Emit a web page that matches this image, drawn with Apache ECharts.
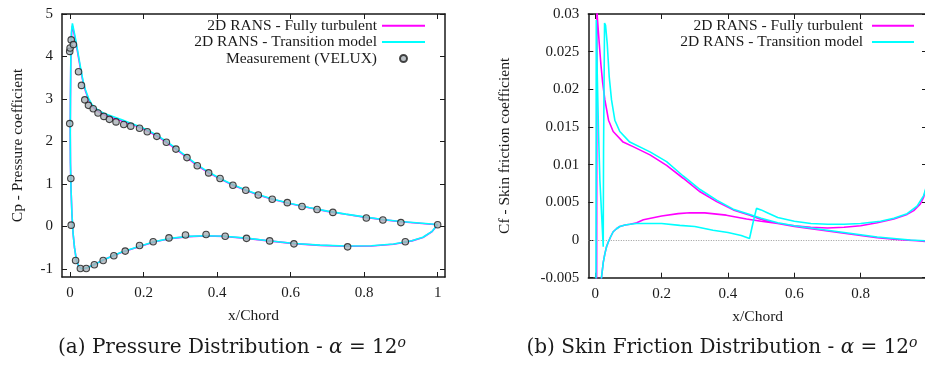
<!DOCTYPE html>
<html>
<head>
<meta charset="utf-8">
<script src="https://cdn.jsdelivr.net/npm/echarts@6/dist/echarts.min.js"></script>
<style>
html,body{margin:0;padding:0;background:#fff;}
#chart{width:925px;height:365px;}
</style>
</head>
<body>
<div id="chart"></div>
<script>
// ---------- Data ----------
const seriesNames = ['2D RANS - Fully turbulent', '2D RANS - Transition model', 'Measurement (VELUX)'];

const cpXTicks = [0, 0.2, 0.4, 0.6, 0.8, 1];
const cpXTickLabels = ['0', '0.2', '0.4', '0.6', '0.8', '1'];
const cpYTicks = [-1, 0, 1, 2, 3, 4, 5];
const cpYTickLabels = ['-1', '0', '1', '2', '3', '4', '5'];

const cfXTicks = [0, 0.2, 0.4, 0.6, 0.8];
const cfXTickLabels = ['0', '0.2', '0.4', '0.6', '0.8'];
const cfYTicks = [-0.005, 0, 0.005, 0.01, 0.015, 0.02, 0.025, 0.03];
const cfYTickLabels = ['-0.005', '0', '0.005', '0.01', '0.015', '0.02', '0.025', '0.03'];

// Cp (plotted as -Cp), path: upper TE -> LE -> lower TE
const cpTurbulent = [
  [1.0, 0.04], [0.95, 0.075], [0.9, 0.11], [0.85, 0.16], [0.8, 0.22], [0.75, 0.285], [0.7, 0.355],
  [0.65, 0.44], [0.6, 0.535], [0.55, 0.64], [0.512, 0.74], [0.478, 0.85], [0.443, 0.97], [0.408, 1.12],
  [0.377, 1.26], [0.346, 1.43], [0.318, 1.62], [0.288, 1.82], [0.262, 1.98], [0.236, 2.13], [0.21, 2.25],
  [0.187, 2.34], [0.165, 2.41], [0.141, 2.48], [0.118, 2.55], [0.095, 2.62], [0.08, 2.69], [0.068, 2.76],
  [0.058, 2.86], [0.05, 2.99], [0.042, 3.18], [0.036, 3.36], [0.028, 3.72], [0.02, 4.12], [0.0136, 4.42],
  [0.0063, 4.72], [0.004, 4.55], [0.002, 3.9], [0.001, 3.0], [0.0005, 2.2], [0.001, 1.5], [0.0025, 0.9],
  [0.005, 0.3], [0.008, -0.15], [0.012, -0.5], [0.017, -0.78], [0.023, -0.93], [0.03, -0.99], [0.04, -0.99],
  [0.05, -0.96], [0.07, -0.88], [0.095, -0.77], [0.12, -0.68], [0.141, -0.61], [0.187, -0.48], [0.231, -0.36],
  [0.277, -0.28], [0.322, -0.24], [0.367, -0.225], [0.42, -0.235], [0.48, -0.28], [0.54, -0.34], [0.61, -0.405],
  [0.68, -0.445], [0.75, -0.465], [0.82, -0.46], [0.88, -0.42], [0.93, -0.34], [0.96, -0.26], [0.985, -0.12],
  [1.0, 0.04]
];
const cpTransition = [
  [1.0, 0.045], [0.95, 0.08], [0.9, 0.115], [0.85, 0.165], [0.8, 0.225], [0.75, 0.29], [0.7, 0.36],
  [0.65, 0.445], [0.6, 0.54], [0.55, 0.645], [0.512, 0.75], [0.478, 0.86], [0.443, 0.98], [0.408, 1.13],
  [0.377, 1.28], [0.346, 1.45], [0.318, 1.64], [0.288, 1.84], [0.262, 2.0], [0.236, 2.15], [0.21, 2.27],
  [0.187, 2.36], [0.165, 2.43], [0.141, 2.51], [0.118, 2.58], [0.095, 2.65], [0.08, 2.72], [0.068, 2.79],
  [0.058, 2.89], [0.05, 3.02], [0.042, 3.21], [0.036, 3.39], [0.028, 3.76], [0.02, 4.16], [0.0136, 4.47],
  [0.0063, 4.78], [0.004, 4.6], [0.002, 3.95], [0.001, 3.0], [0.0005, 2.2], [0.001, 1.5], [0.0025, 0.9],
  [0.005, 0.3], [0.008, -0.15], [0.012, -0.5], [0.017, -0.78], [0.023, -0.93], [0.03, -0.99], [0.04, -0.99],
  [0.05, -0.96], [0.07, -0.88], [0.095, -0.77], [0.12, -0.68], [0.141, -0.6], [0.187, -0.47], [0.231, -0.355],
  [0.277, -0.275], [0.322, -0.235], [0.367, -0.22], [0.42, -0.23], [0.48, -0.275], [0.54, -0.335], [0.61, -0.4],
  [0.68, -0.44], [0.75, -0.46], [0.82, -0.455], [0.88, -0.415], [0.93, -0.335], [0.96, -0.255], [0.985, -0.115],
  [1.0, 0.045]
];
const cpMeasured = [
  [-0.001, 4.12], [0.0, 4.2], [0.003, 4.39], [0.009, 4.28], [-0.001, 2.42], [0.002, 1.13],
  [0.023, 3.64], [0.031, 3.32], [0.040, 2.98], [0.050, 2.85], [0.063, 2.77], [0.076, 2.67], [0.092, 2.59],
  [0.107, 2.52], [0.125, 2.46], [0.146, 2.40], [0.165, 2.36], [0.189, 2.31], [0.210, 2.23], [0.236, 2.12],
  [0.262, 1.98], [0.288, 1.82], [0.318, 1.62], [0.346, 1.43], [0.377, 1.26], [0.408, 1.13], [0.443, 0.97],
  [0.478, 0.85], [0.512, 0.74], [0.550, 0.64], [0.591, 0.56], [0.631, 0.47], [0.672, 0.40], [0.715, 0.33],
  [0.806, 0.20], [0.851, 0.15], [0.900, 0.09], [1.0, 0.04],
  [0.003, 0.03], [0.015, -0.80], [0.028, -0.99], [0.044, -0.99], [0.066, -0.90], [0.090, -0.80],
  [0.119, -0.69], [0.150, -0.58], [0.189, -0.45], [0.226, -0.36], [0.269, -0.27], [0.314, -0.20],
  [0.370, -0.19], [0.422, -0.23], [0.480, -0.28], [0.543, -0.34], [0.609, -0.41], [0.755, -0.48], [0.912, -0.36]
];

// Cf, path: upper TE -> LE -> lower TE
const cfTurbulent = [
  [1.0, -0.0002], [0.97, -0.0001], [0.93, 0.0], [0.9, 0.0001], [0.85, 0.0003], [0.8, 0.0006], [0.75, 0.0009],
  [0.7, 0.0012], [0.65, 0.0015], [0.6, 0.0018], [0.55, 0.0022], [0.496, 0.0028], [0.466, 0.0033], [0.416, 0.0040],
  [0.366, 0.0051], [0.316, 0.0064], [0.265, 0.0082], [0.215, 0.0099], [0.165, 0.0113], [0.114, 0.0124],
  [0.084, 0.0130], [0.054, 0.0144], [0.04, 0.0159], [0.029, 0.0186], [0.022, 0.0210], [0.017, 0.0233],
  [0.012, 0.0261], [0.006, 0.0297], [0.005, 0.034], [0.004, -0.012], [0.012, -0.009], [0.016, -0.0062],
  [0.019, -0.0049], [0.024, -0.003], [0.029, -0.0018], [0.034, -0.0009], [0.039, -0.0003], [0.046, 0.0004],
  [0.054, 0.0011], [0.064, 0.0015], [0.074, 0.0018], [0.09, 0.0020], [0.105, 0.0021], [0.125, 0.0023],
  [0.145, 0.0027], [0.2, 0.0032], [0.25, 0.0035], [0.285, 0.00362], [0.33, 0.0036], [0.395, 0.0033],
  [0.456, 0.0028], [0.5, 0.0025], [0.55, 0.0022], [0.6, 0.0019], [0.65, 0.0017], [0.7, 0.0016], [0.75, 0.0017],
  [0.8, 0.0019], [0.85, 0.0023], [0.9, 0.0028], [0.94, 0.0034], [0.96, 0.0039], [0.98, 0.0048], [0.99, 0.0057],
  [1.0, 0.0072]
];
const cfTransition = [
  [1.0, -0.0001], [0.95, 0.0], [0.9, 0.0002], [0.85, 0.0004], [0.8, 0.0007], [0.75, 0.001], [0.7, 0.0013],
  [0.65, 0.0016], [0.6, 0.0019], [0.55, 0.0023], [0.5, 0.0029], [0.466, 0.0034], [0.416, 0.0041],
  [0.366, 0.0053], [0.316, 0.0067], [0.265, 0.0085], [0.215, 0.0104], [0.165, 0.0117], [0.104, 0.0130],
  [0.074, 0.0144], [0.059, 0.0159], [0.049, 0.0186], [0.042, 0.0217], [0.036, 0.0261], [0.031, 0.0285],
  [0.028, 0.0288], [0.026, 0.0286], [0.025, 0.012], [0.024, -0.0009], [0.019, 0.0035], [0.014, 0.0079],
  [0.01, 0.014], [0.006, 0.022], [0.003, 0.0292], [0.002, 0.0292], [0.002, -0.012], [0.012, -0.009],
  [0.016, -0.0062], [0.019, -0.0049], [0.024, -0.003], [0.029, -0.0018], [0.034, -0.0009], [0.039, -0.0003],
  [0.046, 0.0004], [0.054, 0.0011], [0.064, 0.0015], [0.074, 0.0018], [0.09, 0.0020], [0.105, 0.0021],
  [0.125, 0.0022], [0.155, 0.0022], [0.2, 0.0022], [0.255, 0.00195], [0.3, 0.0018], [0.355, 0.0013],
  [0.4, 0.0010], [0.44, 0.0006], [0.465, 0.0002], [0.475, 0.0022], [0.486, 0.0042], [0.5, 0.0040],
  [0.52, 0.0036], [0.55, 0.0030], [0.6, 0.0025], [0.65, 0.0022], [0.7, 0.0021], [0.75, 0.0021], [0.8, 0.0022],
  [0.86, 0.0025], [0.9, 0.0029], [0.94, 0.0035], [0.97, 0.0045], [0.99, 0.0059], [1.0, 0.0074]
];

// ---------- Styles ----------
const FONT = '"Liberation Serif", "Times New Roman", serif';
const CAPFONT = '"DejaVu Serif", "Liberation Serif", serif';
const INK = '#1a1a1a';
const MAGENTA = '#ff00ff';
const CYAN = '#00ffff';

function labelFrom(ticks, labels) {
  return function (v) {
    let best = 0, d = Infinity;
    ticks.forEach((t, i) => { const dd = Math.abs(t - v); if (dd < d) { d = dd; best = i; } });
    return labels[best];
  };
}

function mkAxis(grid, pos, min, max, ticks, labels, showLabel, name, nameGap) {
  const a = {
    type: 'value', gridIndex: grid, position: pos, min: min, max: max,
    splitLine: { show: false },
    axisLine: { show: true, onZero: false, lineStyle: { color: INK, width: 1.5 } },
    axisTick: { show: true, inside: true, length: 5, customValues: ticks, lineStyle: { color: INK, width: 1 } },
    axisLabel: {
      show: showLabel, customValues: ticks, formatter: labelFrom(ticks, labels),
      fontFamily: FONT, fontSize: 15, color: INK, margin: 9
    }
  };
  if (name) {
    a.name = name; a.nameLocation = 'middle'; a.nameGap = nameGap;
    a.nameTextStyle = { fontFamily: FONT, fontSize: 15.5, color: INK };
    a.nameMoveOverlap = false;
  }
  return a;
}

const hideSym = { opacity: 0 };
const legendText = { fontFamily: FONT, fontSize: 15.5, color: INK, lineHeight: 16 };

const chart = echarts.init(document.getElementById('chart'), null, { renderer: 'canvas' });

const option = {
  animation: false,
  backgroundColor: '#fff',
  grid: [
    { left: 62, top: 14, right: 480, bottom: 88, containLabel: false, outerBoundsMode: 'none' },
    { left: 588.3, top: 14, right: -2, bottom: 87.3, containLabel: false, outerBoundsMode: 'none' }
  ],
  xAxis: [
    mkAxis(0, 'bottom', -0.022, 1.02, cpXTicks, cpXTickLabels, true, 'x/Chord', 31),
    mkAxis(0, 'top', -0.022, 1.02, cpXTicks, cpXTickLabels, false),
    mkAxis(1, 'bottom', -0.021, 1.0, cfXTicks, cfXTickLabels, true, 'x/Chord', 31),
    mkAxis(1, 'top', -0.021, 1.0, cfXTicks, cfXTickLabels, false)
  ],
  yAxis: [
    mkAxis(0, 'left', -1.19, 5, cpYTicks, cpYTickLabels, true, 'Cp - Pressure coefficient', 36),
    mkAxis(0, 'right', -1.19, 5, cpYTicks, cpYTickLabels, false),
    mkAxis(1, 'left', -0.005, 0.03, cfYTicks, cfYTickLabels, true, 'Cf - Skin friction coefficient', 75),
    mkAxis(1, 'right', -0.005, 0.03, cfYTicks, cfYTickLabels, false)
  ],
  legend: [
    {
      orient: 'vertical', align: 'right', right: 499, top: 17.7, padding: 0, itemGap: 0.4,
      itemWidth: 43, itemHeight: 7, selectedMode: false, textStyle: legendText,
      data: [
        { name: seriesNames[0], itemStyle: hideSym },
        { name: seriesNames[1], itemStyle: hideSym },
        { name: seriesNames[2] }
      ]
    },
    {
      orient: 'vertical', align: 'right', right: 10, top: 17.7, padding: 0, itemGap: 0.4,
      itemWidth: 42, itemHeight: 7, selectedMode: false, textStyle: legendText,
      data: [
        { name: seriesNames[0] + ' ', itemStyle: hideSym },
        { name: seriesNames[1] + ' ', itemStyle: hideSym }
      ]
    }
  ],
  series: [
    {
      name: seriesNames[0], type: 'line', xAxisIndex: 0, yAxisIndex: 0, data: cpTurbulent,
      symbol: 'none', smooth: false, lineStyle: { color: MAGENTA, width: 1.6 }, itemStyle: { color: MAGENTA }, z: 2
    },
    {
      name: seriesNames[1], type: 'line', xAxisIndex: 0, yAxisIndex: 0, data: cpTransition,
      symbol: 'none', smooth: false, lineStyle: { color: CYAN, width: 1.6 }, itemStyle: { color: CYAN }, z: 3
    },
    {
      name: seriesNames[2], type: 'scatter', xAxisIndex: 0, yAxisIndex: 0, data: cpMeasured,
      symbol: 'circle', symbolSize: 6.5,
      itemStyle: { color: '#a9b0b6', borderColor: '#1a1a1a', borderWidth: 1.1 }, z: 4
    },
    {
      name: seriesNames[0] + ' ', type: 'line', xAxisIndex: 2, yAxisIndex: 2, data: cfTurbulent,
      symbol: 'none', lineStyle: { color: MAGENTA, width: 1.6 }, itemStyle: { color: MAGENTA }, z: 3,
      markLine: {
        silent: true, symbol: 'none', z: 1,
        label: { show: false },
        lineStyle: { color: '#999', type: [1, 1.5], width: 1 },
        data: [{ yAxis: 0 }]
      }
    },
    {
      name: seriesNames[1] + ' ', type: 'line', xAxisIndex: 2, yAxisIndex: 2, data: cfTransition,
      symbol: 'none', lineStyle: { color: CYAN, width: 1.6 }, itemStyle: { color: CYAN }, z: 4
    }
  ],
  graphic: [
    {
      type: 'text', x: 232, y: 348,
      style: {
        text: '{t|(a) Pressure Distribution - }{m|α}{t| = 12}{s|o}',
        textAlign: 'center', textVerticalAlign: 'middle',
        rich: {
          t: { fontFamily: CAPFONT, fontSize: 20, fill: INK, lineHeight: 24 },
          m: { fontFamily: CAPFONT, fontSize: 20, fontStyle: 'italic', fill: INK, lineHeight: 24 },
          s: { fontFamily: CAPFONT, fontSize: 14, fontStyle: 'italic', fill: INK, lineHeight: 12, verticalAlign: 'top' }
        }
      }
    },
    {
      type: 'text', x: 722, y: 348,
      style: {
        text: '{t|(b) Skin Friction Distribution - }{m|α}{t| = 12}{s|o}',
        textAlign: 'center', textVerticalAlign: 'middle',
        rich: {
          t: { fontFamily: CAPFONT, fontSize: 20, fill: INK, lineHeight: 24 },
          m: { fontFamily: CAPFONT, fontSize: 20, fontStyle: 'italic', fill: INK, lineHeight: 24 },
          s: { fontFamily: CAPFONT, fontSize: 14, fontStyle: 'italic', fill: INK, lineHeight: 12, verticalAlign: 'top' }
        }
      }
    }
  ]
};
chart.setOption(option);
</script>
</body>
</html>
